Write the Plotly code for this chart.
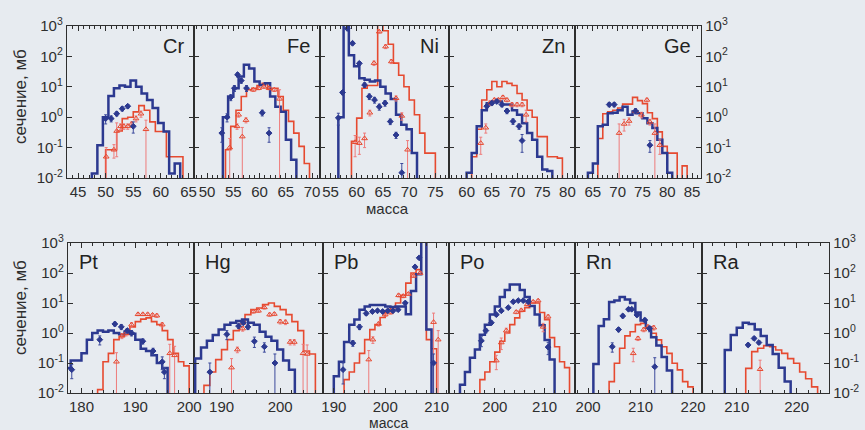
import plotly.graph_objects as go

W, H = 865, 430
FONT = "Liberation Sans, Arial, sans-serif"
BG = "#e7ebf0"
BLUE = "#2c3990"
RED = "#e64a30"
BLUE_ERR = "#3c4a9c"
RED_ERR = "#ee7b7b"
INK = "#2e2e2e"

PANELS = ["Cr", "Fe", "Ni", "Zn", "Ge", "Pt", "Hg", "Pb", "Po", "Rn", "Ra"]
Y_TICKVALS = [0.01, 0.1, 1, 10, 100, 1000]
Y_TICKTEXT = ["10<sup>-2</sup>", "10<sup>-1</sup>", "10<sup>0</sup>",
              "10<sup>1</sup>", "10<sup>2</sup>", "10<sup>3</sup>"]

# ---------------- data ----------------
# histograms: first bin edge (mass) and values in mb for unit-wide bins
# points: (mass, cross section mb, error mb)
cr_blue_start = 47.5
cr_blue = [0.014, 0.12, 1.0, 5, 9, 11, 10, 16, 10, 6, 3.7, 2.0, 0.65, 0.34, 0.014, 0.03]
cr_red_start = 50
cr_red = [0.085, 0.085, 0.35, 0.9, 1.0, 1.5, 2.4, 1.7, 0.7, 0.34, 0.34, 0.05, 0.05, 0.05]
cr_blue_pts = [(50, 0.9, 0.3), (51, 0.9, 0.2), (52, 1.3, 0.2), (53, 1.9, 0.3), (54, 2.3, 0.3), (55, 0.5, 0.2)]
cr_red_pts = [(50.1, 0.05, 0.05), (51.5, 0.085, 0.04), (52, 0.35, 0.3), (52.7, 0.5, 0.1), (53.3, 0.5, 0.1),
              (54, 0.5, 0.1), (54.7, 0.6, 0.1), (55.5, 0.9, 0.2), (56.4, 1.3, 0.3), (57.3, 0.4, 0.4)]

fe_blue_start = 53
fe_blue = [1.0, 4.8, 9, 22, 53, 40, 15, 11.5, 13, 4.8, 2.2, 1.5, 0.18, 0.04]
fe_red_start = 53.5
fe_red = [0.085, 0.5, 1.7, 4.8, 8, 9, 11, 13, 9, 9, 4.8, 1.7, 0.73, 0.3, 0.11, 0.03]
fe_blue_pts = [(52.8, 0.3, 0.15), (53.8, 1.0, 0.3), (54.5, 4.5, 1), (55.2, 9, 2), (55.8, 25, 4),
               (56.5, 16, 3), (57.5, 9, 2), (60.5, 1.4, 0.3), (61.8, 0.3, 0.15)]
fe_red_pts = [(54.3, 0.1, 0.1), (55.7, 0.5, 0.1), (56, 1.2, 0.2), (56.7, 0.23, 0.23), (57.4, 0.8, 0.15),
              (58.8, 8, 1), (59.8, 9, 1), (60.8, 10, 1), (61.8, 9, 1), (62.8, 8, 1), (63.8, 4, 4)]

ni_blue_start = 56.5
ni_blue = [1.0, 3000, 110, 47, 19, 17, 15, 16, 10, 6, 4, 1.2, 0.56, 0.4, 0.066]
ni_red_start = 59
ni_red = [0.16, 0.93, 9, 11, 11, 3000, 700, 250, 60, 24, 10, 3.7, 1.2, 0.3, 0.066, 0.066]
ni_blue_pts = [(56.5, 0.95, 0.4), (57.3, 6.5, 1), (58.2, 830, 50), (59.2, 270, 30), (60.5, 59, 8),
               (61.5, 11.5, 2), (62.4, 4.8, 1), (63.4, 3.7, 0.8), (64.3, 2.2, 0.5), (65.4, 2.9, 0.6),
               (66.4, 0.72, 0.15), (67.5, 0.26, 0.06), (68.6, 0.015, 0.015)]
ni_red_pts = [(59.7, 0.15, 0.1), (60.5, 0.14, 0.08), (61.5, 0.2, 0.1), (62.5, 1.4, 0.3), (63.3, 60, 10),
              (64.3, 650, 60), (65.5, 210, 30), (66.6, 68, 10), (67.5, 4.2, 0.8), (68.6, 1.1, 0.3),
              (69.7, 0.085, 0.085)]

zn_blue_start = 60
zn_blue = [0.015, 0.066, 0.5, 1.7, 2.9, 3.3, 3.3, 2.6, 2.6, 1.7, 1.2, 0.63, 0.3, 0.18, 0.05, 0.019, 0.017]
zn_red_start = 61
zn_red = [0.05, 0.4, 3.7, 8, 15, 10, 15, 13, 11, 6, 3.7, 1.7, 1.0, 0.23, 0.23, 0.05, 0.05, 0.045]
zn_blue_pts = [(64, 2.3, 0.4), (65, 2.9, 0.4), (66, 3.3, 0.5), (67, 2.6, 0.4), (68, 1.6, 0.3),
               (69.2, 0.73, 0.15), (70.4, 0.5, 0.1), (71, 0.17, 0.1)]
zn_red_pts = [(62.8, 0.14, 0.08), (63.8, 0.45, 0.15), (64.6, 2.9, 0.5), (65.5, 3.7, 0.5), (66.3, 3.7, 0.5),
              (67.2, 4.5, 0.6), (68, 3.7, 0.5), (69, 2.6, 0.4), (70, 2.6, 0.4), (71, 2.6, 0.4), (71.8, 1.2, 0.5)]

ge_blue_start = 64
ge_blue = [0.015, 0.03, 0.5, 0.56, 1.35, 1.4, 1.7, 2.2, 1.2, 1.55, 1.35, 0.93, 0.63, 0.44, 0.18, 0.066, 0.015]
ge_red_start = 66
ge_red = [0.2, 1.3, 1.5, 1.7, 2.0, 2.7, 2.7, 4.5, 3.5, 2.8, 1.4, 0.9, 0.33, 0.11, 0.066, 0.066, 0.005, 0.025]
ge_blue_pts = [(68.3, 2.6, 0.4), (69.3, 2.6, 0.4), (73.6, 1.6, 0.3), (76.5, 0.12, 0.05)]
ge_red_pts = [(70.3, 0.3, 0.3), (71.3, 0.6, 0.25), (72.3, 0.75, 0.2), (73.6, 1.6, 0.3), (74.8, 1.2, 0.25),
              (75.9, 3.7, 0.5), (76.5, 0.7, 0.15), (77.5, 0.3, 0.3), (78.5, 0.12, 0.06)]

pt_blue_start = 177
pt_blue = [0.068, 0.12, 0.12, 0.21, 0.6, 1.0, 1.2, 1.1, 1.2, 1.0, 0.9, 1.1, 0.94, 0.6, 0.3, 0.25, 0.18, 0.1, 0.068]
pt_red_start = 183
pt_red = [0.013, 0.11, 0.21, 0.6, 0.78, 0.9, 1.6, 2.4, 2.9, 3.2, 2.4, 1.9, 1.2, 0.6, 0.21, 0.11, 0.08]
pt_blue_pts = [(178.2, 0.06, 0.03), (183.4, 0.6, 0.2), (186.2, 2.0, 0.3), (187.4, 1.6, 0.3), (188.5, 1.2, 0.2),
               (189.3, 1.0, 0.2), (191.4, 0.53, 0.1), (193.3, 0.25, 0.06), (195, 0.11, 0.05), (195.4, 0.05, 0.02)]
pt_red_pts = [(186.5, 0.11, 0.11), (187.5, 0.8, 0.15), (188.3, 1.0, 0.2), (189.3, 1.9, 0.3), (190.5, 4.2, 0.4),
              (191.4, 4.2, 0.4), (192.3, 4.2, 0.4), (193.2, 4.0, 0.4), (194, 3.8, 0.5), (195, 1.9, 0.3),
              (196.4, 0.21, 0.21), (197.3, 0.18, 0.18)]

hg_blue_start = 185.5
hg_blue = [0.14, 0.33, 0.55, 0.85, 1.3, 1.9, 2.2, 2.5, 2.8, 2.2, 1.9, 1.1, 0.75, 0.55, 0.28, 0.12, 0.06]
hg_red_start = 187
hg_red = [0.018, 0.05, 0.13, 0.28, 0.6, 1.2, 2.0, 4.1, 6, 6.8, 8.8, 10, 7.7, 6, 4.1, 2.4, 1.2, 0.25, 0.2]
hg_blue_pts = [(188, 0.05, 0.05), (190.9, 0.9, 0.3), (192.9, 1.7, 0.3), (193.7, 2.2, 0.3), (194.5, 1.6, 0.3),
               (195.6, 0.53, 0.2), (197.3, 0.35, 0.12), (199.1, 0.1, 0.1)]
hg_red_pts = [(191.7, 0.07, 0.07), (192.7, 0.28, 0.06), (193.6, 1.4, 0.25), (195.4, 5.2, 0.6), (196.3, 5.5, 0.6),
              (197.3, 7.1, 0.8), (198.2, 4.1, 0.5), (199, 4.3, 0.5), (200, 2.4, 0.4), (200.9, 2.3, 0.4),
              (201.7, 0.5, 0.1), (202.4, 0.5, 0.1), (203.9, 0.21, 0.21), (204.6, 0.2, 0.2)]

pb_blue_start = 190
pb_blue = [0.036, 0.11, 0.5, 1.9, 2.8, 6, 7.7, 8.5, 8.5, 8.5, 7.7, 7.3, 7.7, 7.7, 4.2, 25, 90, 3000, 1.3]
pb_red_start = 192
pb_red = [0.028, 0.05, 0.1, 0.21, 0.6, 1.3, 1.9, 3.3, 5.5, 7, 10, 18, 46, 100, 130, 3000, 0.6, 0.3]
pb_blue_pts = [(191.8, 0.06, 0.04), (193.7, 0.46, 0.1), (195, 1.6, 0.3), (196.3, 4.5, 0.6), (197.5, 5.2, 0.6),
               (198.5, 5.5, 0.6), (199.5, 5.2, 0.6), (200.5, 5.5, 0.6), (201.5, 5.5, 0.6), (202.5, 6, 0.7),
               (203.9, 10, 1.2), (205.8, 160, 15), (206.6, 320, 30), (209.4, 0.1, 0.1)]
pb_red_pts = [(196.8, 0.13, 0.13), (197.6, 0.6, 0.15), (198.7, 2.0, 0.3), (200, 4.1, 0.5), (201, 4.8, 0.5),
              (202.6, 18, 2), (203.5, 17, 2), (204.5, 20, 2), (205.5, 80, 8), (206.8, 100, 10),
              (209.4, 2.3, 2.3), (210.3, 0.6, 0.6)]

po_blue_start = 193
po_blue = [0.019, 0.05, 0.15, 0.28, 0.88, 1.9, 4.1, 7.7, 16, 27, 41, 41, 27, 16, 8, 4.1, 1.8, 0.58, 0.13]
po_red_start = 197
po_red = [0.028, 0.05, 0.11, 0.23, 0.53, 1.0, 1.9, 3.2, 5.3, 7, 10, 10, 4.8, 2.8, 0.7, 0.35, 0.11, 0.07]
po_blue_pts = [(197.3, 0.55, 0.2), (198.2, 1.2, 0.2), (199.3, 2.2, 0.3), (200.3, 4.1, 0.5), (201.3, 5.5, 0.6),
               (202.7, 7, 0.7), (203.7, 11, 1), (204.7, 12, 1), (205.7, 12, 1), (206.7, 11, 1), (210.7, 0.34, 0.15)]
po_red_pts = [(200.3, 0.12, 0.06), (201.3, 0.48, 0.2), (202.3, 1.2, 0.25), (204.3, 5, 0.6), (205.3, 5.7, 0.6),
              (206.5, 9, 1), (207.7, 11, 1), (208.7, 12, 1), (209.7, 1.6, 0.5), (210.7, 3.5, 0.5)]

rn_blue_start = 201
rn_blue = [0.093, 1.7, 2.9, 10.7, 12, 16, 13, 10, 4.8, 2.6, 1.5, 0.72, 0.38, 0.16, 0.056]
rn_red_start = 204
rn_red = [0.024, 0.098, 0.31, 0.8, 1.1, 1.9, 2.1, 1.6, 0.98, 0.59, 0.35, 0.21, 0.098, 0.059, 0.024, 0.016]
rn_blue_pts = [(204.6, 0.35, 0.12), (205.8, 1.3, 0.2), (206.6, 3.7, 0.5), (207.7, 6.2, 0.7), (208.3, 6.2, 0.7),
               (209.3, 4.0, 0.5), (210.8, 2.7, 0.4), (211.7, 1.4, 0.3), (212.7, 0.075, 0.075)]
rn_red_pts = [(208.6, 0.21, 0.1), (209.5, 0.66, 0.1), (210.6, 1.3, 0.2), (211.4, 1.6, 0.25), (212.5, 1.5, 0.25)]

ra_blue_start = 208
ra_blue = [0.27, 0.86, 1.5, 2.2, 2.0, 1.3, 0.79, 0.4, 0.2, 0.07, 0.024]
ra_red_start = 211.5
ra_red = [0.066, 0.24, 0.31, 0.38, 0.35, 0.27, 0.21, 0.14, 0.098, 0.05, 0.03, 0.016]
ra_blue_pts = [(211.9, 0.4, 0.05), (212.9, 0.66, 0.08), (213.7, 0.48, 0.06)]
ra_red_pts = [(213.9, 0.062, 0.062)]

DATA = {
    "Cr": (cr_blue_start, cr_blue, cr_red_start, cr_red, cr_blue_pts, cr_red_pts),
    "Fe": (fe_blue_start, fe_blue, fe_red_start, fe_red, fe_blue_pts, fe_red_pts),
    "Ni": (ni_blue_start, ni_blue, ni_red_start, ni_red, ni_blue_pts, ni_red_pts),
    "Zn": (zn_blue_start, zn_blue, zn_red_start, zn_red, zn_blue_pts, zn_red_pts),
    "Ge": (ge_blue_start, ge_blue, ge_red_start, ge_red, ge_blue_pts, ge_red_pts),
    "Pt": (pt_blue_start, pt_blue, pt_red_start, pt_red, pt_blue_pts, pt_red_pts),
    "Hg": (hg_blue_start, hg_blue, hg_red_start, hg_red, hg_blue_pts, hg_red_pts),
    "Pb": (pb_blue_start, pb_blue, pb_red_start, pb_red, pb_blue_pts, pb_red_pts),
    "Po": (po_blue_start, po_blue, po_red_start, po_red, po_blue_pts, po_red_pts),
    "Rn": (rn_blue_start, rn_blue, rn_red_start, rn_red, rn_blue_pts, rn_red_pts),
    "Ra": (ra_blue_start, ra_blue, ra_red_start, ra_red, ra_blue_pts, ra_red_pts),
}

# ---------------- layout geometry (pixels) ----------------
X_RANGES = {
    "Cr": [43, 66], "Fe": [47.5, 71.5], "Ni": [53, 77.6], "Zn": [56.5, 81.5], "Ge": [61.4, 86.8],
    "Pt": [177.5, 200.9], "Hg": [185.3, 207.3], "Pb": [187.9, 212.4], "Po": [190.8, 216.1],
    "Rn": [197.5, 221.7], "Ra": [204.2, 225.4],
}
TOP_EDGES = [67, 194, 320, 449, 575, 701]
BOT_EDGES = [68, 194, 323, 449, 575, 702, 829]
TOP_Y = (26, 178)
BOT_Y = (243, 393)


def px_x(p):
    return p / W


def px_y(p):
    return 1 - p / H


def steps(start, vals, floor=1e-4):
    n = len(vals)
    xs = [start] + [start + i for i in range(n)] + [start + n, start + n]
    ys = [floor] + list(vals) + [vals[-1], floor]
    return xs, ys


fig = go.Figure()
layout = {}
annotations = []

for i, name in enumerate(PANELS, start=1):
    top = i <= 5
    if top:
        k = i - 1
        x0, x1 = TOP_EDGES[k], TOP_EDGES[k + 1]
        y0, y1 = TOP_Y
        last = (i == 5)
        first = (i == 1)
    else:
        k = i - 6
        x0, x1 = BOT_EDGES[k], BOT_EDGES[k + 1]
        y0, y1 = BOT_Y
        last = (i == 11)
        first = (i == 6)
    xa = "x" if i == 1 else f"x{i}"
    ya = "y" if i == 1 else f"y{i}"
    bstart, bvals, rstart, rvals, bpts, rpts = DATA[name]

    bx, by = steps(bstart, bvals)
    rx, ry = steps(rstart, rvals)
    fig.add_trace(go.Scatter(x=rx, y=ry, mode="lines", line=dict(color=RED, width=1.6, shape="hv"),
                             xaxis=xa, yaxis=ya, showlegend=False, hoverinfo="skip"))
    fig.add_trace(go.Scatter(x=bx, y=by, mode="lines", line=dict(color=BLUE, width=2.5, shape="hv"),
                             xaxis=xa, yaxis=ya, showlegend=False, hoverinfo="skip"))

    for pts, col, ecol, sym, size in ((rpts, RED, RED_ERR, "triangle-up-open", 5),
                                      (bpts, BLUE, BLUE_ERR, "diamond", 4.5)):
        mx = [p[0] for p in pts]
        my = [p[1] for p in pts]
        ep = [p[2] for p in pts]
        em = [min(p[2], p[1]) for p in pts]
        fig.add_trace(go.Scatter(
            x=mx, y=my, mode="markers",
            marker=dict(symbol=sym, size=size, color=col, line=dict(color=col, width=1)),
            error_y=dict(type="data", array=ep, arrayminus=em, color=ecol, thickness=1, width=1.5),
            xaxis=xa, yaxis=ya, showlegend=False, hoverinfo="skip"))

    layout["xaxis" if i == 1 else f"xaxis{i}"] = dict(
        domain=[px_x(x0), px_x(x1)], range=X_RANGES[name], anchor=ya, automargin=False,
        tickmode="linear", tick0=0, dtick=5 if top else 10,
        ticks="inside", ticklen=5, tickwidth=1, tickcolor=INK,
        minor=dict(tick0=0, dtick=1 if top else 2, ticks="inside", ticklen=2.5, tickcolor=INK),
        showline=True, linecolor=INK, linewidth=1.4, mirror="ticks",
        showgrid=False, zeroline=False,
        tickfont=dict(family=FONT, size=15, color=INK),
    )
    show_lbl = first or last
    layout["yaxis" if i == 1 else f"yaxis{i}"] = dict(
        domain=[px_y(y1), px_y(y0)], type="log", range=[-2, 3], anchor=xa, automargin=False,
        tickmode="array", tickvals=Y_TICKVALS, ticktext=Y_TICKTEXT,
        showticklabels=show_lbl, side="right" if last else "left",
        ticks="inside", ticklen=5, tickwidth=1, tickcolor=INK,
        showline=True, linecolor=INK, linewidth=1.4, mirror="ticks",
        showgrid=False, zeroline=False,
        tickfont=dict(family=FONT, size=15, color=INK),
    )

    if top:
        annotations.append(dict(x=px_x(x1 - 8), y=px_y(46), xref="paper", yref="paper",
                                text=name, showarrow=False, xanchor="right", yanchor="middle",
                                font=dict(family=FONT, size=20, color="#222")))
    else:
        annotations.append(dict(x=px_x(x0 + 9), y=px_y(262), xref="paper", yref="paper",
                                text=name, showarrow=False, xanchor="left", yanchor="middle",
                                font=dict(family=FONT, size=20, color="#222")))

for yc in (97, 308):
    annotations.append(dict(x=px_x(20), y=px_y(yc), xref="paper", yref="paper", text="сечение, мб",
                            textangle=-90, showarrow=False, xanchor="center", yanchor="middle",
                            font=dict(family=FONT, size=17, color=INK)))
for xc, yc, fs in ((387, 208, 15), (388, 422.5, 14)):
    annotations.append(dict(x=px_x(xc), y=px_y(yc), xref="paper", yref="paper", text="масса",
                            showarrow=False, xanchor="center", yanchor="middle",
                            font=dict(family=FONT, size=fs, color=INK)))

fig.update_layout(
    width=W, height=H, margin=dict(l=0, r=0, t=0, b=0, autoexpand=False),
    paper_bgcolor=BG, plot_bgcolor=BG, annotations=annotations, showlegend=False,
    **layout,
)

fig.write_html(
    "out.html",
    config={"displayModeBar": False},
    post_script="document.body.style.margin='0px';document.body.style.padding='0px';"
                "document.body.style.overflow='hidden';document.body.style.background='" + BG + "';",
)
